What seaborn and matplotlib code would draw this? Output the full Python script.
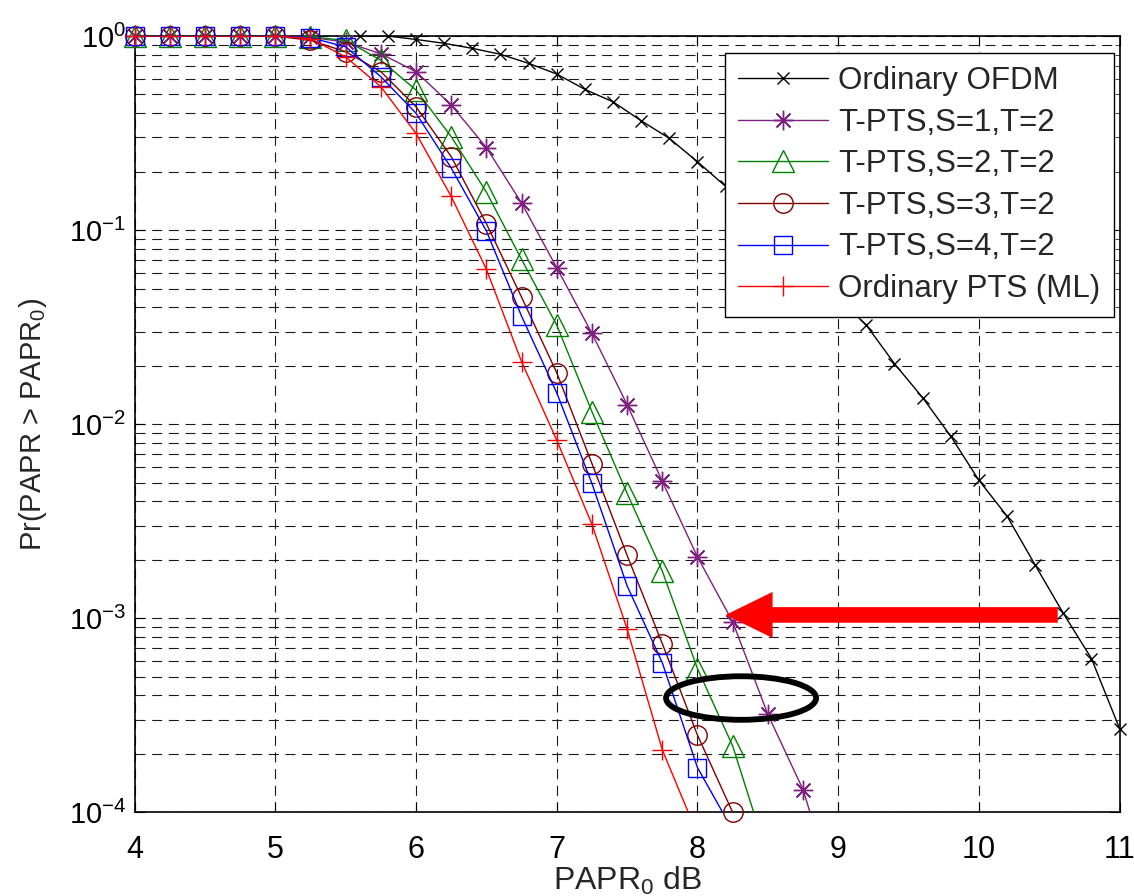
import numpy as np
import pandas as pd
import matplotlib
matplotlib.use("Agg")
import matplotlib.pyplot as plt
import seaborn as sns
from matplotlib.lines import Line2D
from matplotlib.patches import Ellipse, FancyArrow
from matplotlib.ticker import LogLocator, NullFormatter, FixedLocator

# ---------------- data ----------------
papr_ofdm = [5.6, 5.8, 6.0, 6.2, 6.4, 6.6, 6.8, 7.0, 7.2, 7.4, 7.6, 7.8, 8.0, 8.2,
             8.4, 8.6, 8.8, 9.0, 9.2, 9.4, 9.6, 9.8, 10.0, 10.2, 10.4, 10.6, 10.8, 11.0]
ccdf_ofdm = [1.0, 1.0, 0.96, 0.917, 0.864, 0.805, 0.723, 0.637, 0.531, 0.458, 0.366,
             0.297, 0.225, 0.168, 0.124, 0.090, 0.064, 0.0447, 0.0324, 0.0205, 0.0137,
             0.00867, 0.00514, 0.00336, 0.00188, 0.00106, 0.00062, 0.00027]

papr_tpts = [4.0, 4.25, 4.5, 4.75, 5.0, 5.25, 5.5, 5.75, 6.0, 6.25, 6.5, 6.75, 7.0,
             7.25, 7.5, 7.75, 8.0, 8.25, 8.5, 8.75, 9.0]
ccdf_s1 = [1, 1, 1, 1, 1, 0.985, 0.93, 0.81, 0.655, 0.441, 0.266, 0.138, 0.064, 0.0294,
           0.0126, 0.00508, 0.00207, 0.00096, 0.00032, 0.000131, 0.000034]
ccdf_s2 = [1, 1, 1, 1, 1, 0.99, 0.95, 0.75, 0.527, 0.303, 0.157, 0.0706, 0.0324, 0.0116,
           0.0044, 0.00175, 0.00055, 0.00022, 0.000059]
ccdf_s3 = [1, 1, 1, 1, 1, 0.95, 0.83, 0.655, 0.432, 0.239, 0.108, 0.0451, 0.0184, 0.00627,
           0.00211, 0.00074, 0.00025, 0.0001]
ccdf_s4 = [1, 1, 1, 1, 1, 0.98, 0.88, 0.617, 0.40, 0.209, 0.099, 0.036, 0.0145, 0.00495,
           0.00147, 0.00059, 0.00017, 0.000081]
ccdf_pts = [1, 1, 1, 1, 1, 0.97, 0.78, 0.548, 0.315, 0.149, 0.0628, 0.021, 0.00827,
            0.00305, 0.00088, 0.00021, 0.000077]

labels = ["Ordinary OFDM", "T-PTS,S=1,T=2", "T-PTS,S=2,T=2", "T-PTS,S=3,T=2",
          "T-PTS,S=4,T=2", "Ordinary PTS (ML)"]
x_ticks = [4, 5, 6, 7, 8, 9, 10, 11]

# annotation anchors (data coordinates)
arrow_tip = (8.2, 1.04e-3)
arrow_tail_x = 10.56
ellipse_center = (8.31, 3.88e-4)

# ---------------- style ----------------
sns.set_style("ticks")
plt.rcParams["font.family"] = ["Liberation Sans", "DejaVu Sans"]
plt.rcParams["mathtext.fontset"] = "custom"
plt.rcParams["mathtext.rm"] = "Liberation Sans"
plt.rcParams["mathtext.it"] = "Liberation Sans"
plt.rcParams["mathtext.bf"] = "Liberation Sans"

fig = plt.figure(figsize=(11.34, 8.96), dpi=100)
ax = fig.add_axes([0.1187, 0.0934, 0.8686, 0.8664])

series = [
    (papr_ofdm, ccdf_ofdm, "black", "x", 9, 1.0),
    (papr_tpts, ccdf_s1, "#7F1F80", (8, 2, 0), 14, 1.0),
    (papr_tpts[:len(ccdf_s2)], ccdf_s2, "#008000", "^", 16, 1.0),
    (papr_tpts[:len(ccdf_s3)], ccdf_s3, "#800000", "o", 14, 1.0),
    (papr_tpts[:len(ccdf_s4)], ccdf_s4, "#0000FF", "s", 13.5, 1.0),
    (papr_tpts[:len(ccdf_pts)], ccdf_pts, "#FF0000", "+", 14, 1.0),
]

ymin, ymax = 1e-4, 1.0
handles = []
for (xs, ys, col, mk, ms, lw), lab in zip(series, labels):
    df = pd.DataFrame({"x": xs, "y": ys})
    sns.lineplot(data=df, x="x", y="y", color=col, linewidth=lw, ax=ax,
                 estimator=None, sort=False, zorder=3)
    dfin = df[(df["y"] >= ymin * 0.999) & (df["y"] <= ymax * 1.001)]
    sns.lineplot(data=dfin, x="x", y="y", color=col, linestyle="None", marker=mk,
                 markersize=ms, markerfacecolor="none", markeredgecolor=col,
                 markeredgewidth=1.0, ax=ax, estimator=None, sort=False,
                 clip_on=False, zorder=3)
    handles.append(Line2D([], [], color=col, lw=lw, marker=mk, markersize=ms,
                          markerfacecolor="none", markeredgecolor=col,
                          markeredgewidth=1.0))

ax.set_yscale("log")
ax.set_xlim(4, 11)
ax.set_ylim(ymin, ymax)
ax.xaxis.set_major_locator(FixedLocator(x_ticks))
ax.set_xticklabels([str(t) for t in x_ticks])
ax.yaxis.set_major_locator(LogLocator(base=10, numticks=10))
ax.yaxis.set_minor_locator(LogLocator(base=10, subs=np.arange(2, 10), numticks=20))
ax.yaxis.set_minor_formatter(NullFormatter())

grid_kw = dict(linestyle=(0, (9, 6)), color="0.1", linewidth=0.8)
ax.grid(True, which="major", axis="both", **grid_kw)
ax.grid(True, which="minor", axis="y", **grid_kw)
ax.set_axisbelow(True)

ax.tick_params(axis="both", which="major", direction="in", length=7, width=0.8,
               top=True, right=True, colors="black")
ax.tick_params(axis="x", which="major", labelsize=22, pad=16)
ax.tick_params(axis="y", which="major", labelsize=21, pad=6)
ax.tick_params(axis="y", which="minor", direction="in", length=3.5, width=0.6,
               left=True, right=True)
for sp in ax.spines.values():
    sp.set_visible(True)
    sp.set_linewidth(1.2)
    sp.set_color("black")

ax.set_xlabel("PAPR$_0$ dB", fontsize=23, labelpad=0)
ax.set_ylabel("Pr(PAPR > PAPR$_0$)", fontsize=21, labelpad=14)

leg = ax.legend(handles, labels, loc="upper right", bbox_to_anchor=(0.994, 0.978),
                borderaxespad=0, fontsize=22.5, frameon=True, fancybox=False,
                edgecolor="black", framealpha=1, handlelength=2.9,
                handletextpad=0.32, labelspacing=0.37, borderpad=0.42)
leg.get_frame().set_linewidth(1.0)
leg.set_zorder(5)

# ---------------- annotations ----------------
to_axes = ax.transData + ax.transAxes.inverted()
tip_ax = to_axes.transform(arrow_tip)
tail_ax = to_axes.transform((arrow_tail_x, arrow_tip[1]))
arrow = FancyArrow(tail_ax[0], tail_ax[1], tip_ax[0] - tail_ax[0], 0,
                   width=0.0201, head_width=0.0593, head_length=0.0477,
                   length_includes_head=True, color="#FF0000", lw=0,
                   transform=ax.transAxes, zorder=6)
ax.add_patch(arrow)

ell_ax = to_axes.transform(ellipse_center)
ell = Ellipse(ell_ax, width=0.1523, height=0.0561, fill=False, edgecolor="black",
              linewidth=4.2, transform=ax.transAxes, zorder=6)
ax.add_patch(ell)

fig.savefig("out.png", dpi=100)
